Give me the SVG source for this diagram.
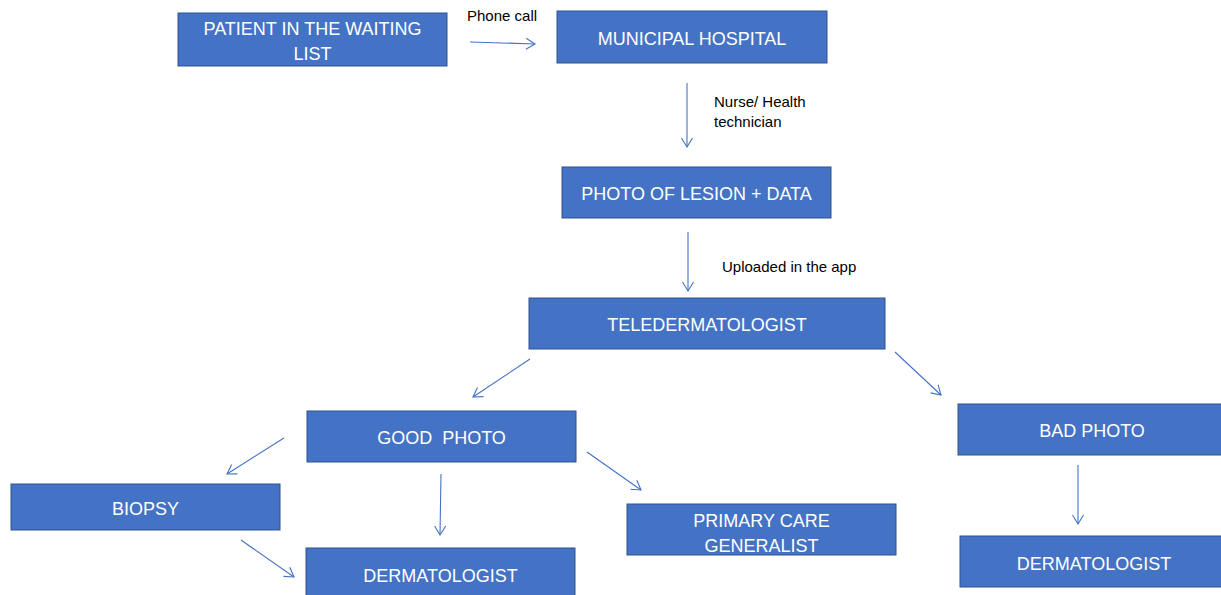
<svg xmlns="http://www.w3.org/2000/svg" width="1221" height="595" viewBox="0 0 1221 595">
<style>
.box{fill:#4472C4;stroke:#2F528F;stroke-width:1}
.bt{fill:#ffffff;font-family:"Liberation Sans",Arial,sans-serif;font-size:18px;text-anchor:middle;white-space:pre}
.lbl{fill:#000000;font-family:"Liberation Sans",Arial,sans-serif;font-size:15px}
.arr{stroke:#4472C4;stroke-width:1.1;fill:none;marker-end:url(#ah)}
</style>
<defs>
<marker id="ah" markerUnits="userSpaceOnUse" markerWidth="14" markerHeight="14" refX="10" refY="6" orient="auto">
<path d="M1,0.5 L10,6 L1,11.5" fill="none" stroke="#4472C4" stroke-width="1.1"/>
</marker>
</defs>
<rect width="1221" height="595" fill="#ffffff"/>
<g id="connectors">
<line class="arr" x1="470" y1="42" x2="535" y2="44"/>
<line class="arr" x1="687" y1="83" x2="687" y2="147"/>
<line class="arr" x1="688" y1="232" x2="688" y2="291"/>
<line class="arr" x1="530" y1="359" x2="473" y2="397"/>
<line class="arr" x1="895" y1="352" x2="941" y2="395"/>
<line class="arr" x1="284" y1="438" x2="227" y2="474"/>
<line class="arr" x1="441" y1="474" x2="440" y2="535"/>
<line class="arr" x1="587" y1="452" x2="641" y2="490"/>
<line class="arr" x1="241" y1="540" x2="294" y2="577"/>
<line class="arr" x1="1078" y1="465" x2="1078" y2="524"/>
<text class="lbl" x="467" y="21">Phone call</text>
<text class="lbl" x="714" y="107">Nurse/ Health</text>
<text class="lbl" x="714" y="127">technician</text>
<text class="lbl" x="722" y="272">Uploaded in the app</text>
</g>
<g id="patient">
<rect class="box" x="178" y="13" width="269" height="53"/>
<text class="bt" x="312.5" y="35">PATIENT IN THE WAITING</text>
<text class="bt" x="312.5" y="60">LIST</text>
</g>
<g id="municipal">
<rect class="box" x="557" y="11" width="270" height="52"/>
<text class="bt" x="692" y="45">MUNICIPAL HOSPITAL</text>
</g>
<g id="photo">
<rect class="box" x="562" y="167" width="269" height="51"/>
<text class="bt" x="696.5" y="200">PHOTO OF LESION + DATA</text>
</g>
<g id="teledermatologist">
<rect class="box" x="529" y="298" width="356" height="51"/>
<text class="bt" x="707" y="331">TELEDERMATOLOGIST</text>
</g>
<g id="goodphoto">
<rect class="box" x="307" y="411" width="269" height="51"/>
<text class="bt" x="441.5" y="444">GOOD  PHOTO</text>
</g>
<g id="badphoto">
<rect class="box" x="958" y="404" width="265" height="51"/>
<text class="bt" x="1092" y="437">BAD PHOTO</text>
</g>
<g id="biopsy">
<rect class="box" x="11" y="484" width="269" height="46"/>
<text class="bt" x="145.5" y="515">BIOPSY</text>
</g>
<g id="primarycare">
<rect class="box" x="627" y="504" width="269" height="51"/>
<text class="bt" x="761.5" y="527">PRIMARY CARE</text>
<text class="bt" x="761.5" y="552">GENERALIST</text>
</g>
<g id="dermatologist1">
<rect class="box" x="306" y="548" width="269" height="52"/>
<text class="bt" x="440.5" y="582">DERMATOLOGIST</text>
</g>
<g id="dermatologist2">
<rect class="box" x="960" y="536" width="263" height="51"/>
<text class="bt" x="1094" y="570">DERMATOLOGIST</text>
</g>
</svg>
